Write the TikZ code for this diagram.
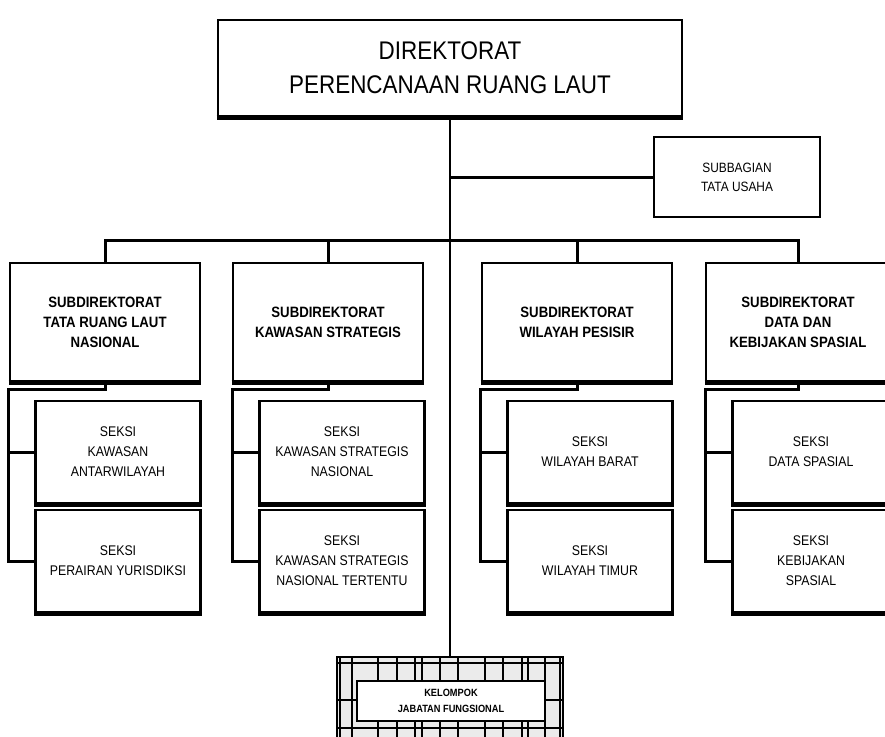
\documentclass[tikz,border=0pt]{standalone}
\usepackage{fontspec}
\setmainfont{Liberation Sans}
\newfontfamily\narrowsans[FakeStretch=0.88]{Liberation Sans}
\usetikzlibrary{calc}

\tikzset{
  box/.style={draw, line width=2.8pt, fill=white, align=center, inner sep=2pt},
  subbox/.style={box, minimum width=190pt, minimum height=118pt, font=\narrowsans\bfseries\fontsize{15}{20}\selectfont},
  seksi/.style={box, minimum width=165pt, minimum height=102pt, font=\narrowsans\fontsize{14}{20}\selectfont},
  bar/.style={line width=3pt},
  thinline/.style={line width=1.4pt}
}

\begin{document}
\begin{tikzpicture}[x=1pt, y=-1pt]
		%%%%% START %%%%%
		\useasboundingbox (0,0) rectangle (885,736);
		
		% direktorat
		\node[box, minimum width=464pt, minimum height=96pt, font=\narrowsans\fontsize{25.5}{34}\selectfont] (dir) at (450,68) {DIREKTORAT\\PERENCANAAN RUANG LAUT};
		
		% kelompok jabatan fungsional
		\begin{scope}
		\clip (337,657) rectangle (563,745);
		\fill[black!8] (337,657) rectangle (563,745);
		\foreach \x in {340,352,378,397,415,422,440,458,485,503,522,528,545,560}
		  \draw[line width=1.3pt] (\x,657) -- (\x,745);
		\foreach \y in {663,700,728}
		  \draw[line width=1.3pt] (337,\y) -- (563,\y);
		\end{scope}
		\node[draw, line width=2.2pt, minimum width=226pt, minimum height=88pt] (klp) at (450,701) {};
		\node[box, line width=2.4pt, minimum width=188pt, minimum height=40pt, font=\narrowsans\bfseries\fontsize{10.5}{16}\selectfont] (jf) at (451,701) {KELOMPOK\\JABATAN FUNGSIONAL};
		
		\draw[thinline] (dir.south) -- (klp.north);
		
		% tata usaha
		\node[box, minimum width=166pt, minimum height=80pt, font=\narrowsans\fontsize{13.5}{19}\selectfont] (tu) at (737,177) {SUBBAGIAN\\TATA USAHA};
		\draw[bar] (tu.west) -- (tu.west -| dir.south);
		
		% subdirektorat
		\node[subbox] (sd1) at (105,322) {SUBDIREKTORAT\\TATA RUANG LAUT\\NASIONAL};
		\node[subbox] (sd2) at (328,322) {SUBDIREKTORAT\\KAWASAN STRATEGIS};
		\node[subbox] (sd3) at (577,322) {SUBDIREKTORAT\\WILAYAH PESISIR};
		\node[subbox, minimum width=184pt] (sd4) at (798,322) {SUBDIREKTORAT\\DATA DAN\\KEBIJAKAN SPASIAL};
		
		\coordinate (bar) at (451,240);
		\draw[bar] (sd1.north) |- (bar) -| (sd4.north);
		\draw[bar] (sd2.north) -- (sd2.north |- bar);
		\draw[bar] (sd3.north) -- (sd3.north |- bar);
		
		% seksi
		\node[seksi] (s11) at (118,452) {SEKSI\\KAWASAN\\ANTARWILAYAH};
		\node[seksi] (s12) at (118,561) {SEKSI\\PERAIRAN YURISDIKSI};
		\node[seksi] (s21) at (342,452) {SEKSI\\KAWASAN STRATEGIS\\NASIONAL};
		\node[seksi] (s22) at (342,561) {SEKSI\\KAWASAN STRATEGIS\\NASIONAL TERTENTU};
		\node[seksi] (s31) at (590,452) {SEKSI\\WILAYAH BARAT};
		\node[seksi] (s32) at (590,561) {SEKSI\\WILAYAH TIMUR};
		\node[seksi, minimum width=157pt] (s41) at (811,452) {SEKSI\\DATA SPASIAL};
		\node[seksi, minimum width=157pt] (s42) at (811,561) {SEKSI\\KEBIJAKAN\\SPASIAL};
		
		% garis bawah tebal
		\foreach \n in {dir,sd1,sd2,sd3,sd4,s11,s21,s31,s41,s12,s22,s32,s42}
		  \draw[line width=4.5pt] (\n.south west) -- (\n.south east);
		
		% kurung seksi
		\foreach \a/\b/\c in {sd1/s11/s12, sd2/s21/s22, sd3/s31/s32, sd4/s41/s42} {
		  \draw[bar] (\a.south) -- ++(0,7) -| ($(\c.west)+(-26,0)$) -- (\c.west);
		  \draw[bar] (\b.west) -- ++(-26,0);
		}
		
		%%%%% END %%%%%
	\end{tikzpicture}
\end{document}
